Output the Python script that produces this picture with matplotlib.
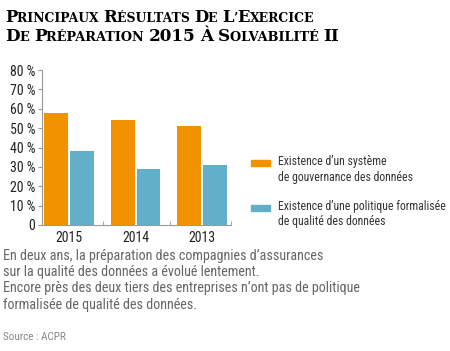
import matplotlib
matplotlib.use("Agg")
import matplotlib.pyplot as plt
import numpy as np

# === DONNEES === #
annees = ["2015", "2014", "2013"]
gouvernance = [58, 54, 51]
politique = [38, 29, 31]
legende = ["Existence d\u2019un système\nde gouvernance des données",
           "Existence d\u2019une politique formalisée\nde qualité des données"]
yticks = [0, 10, 20, 30, 40, 50, 60, 70, 80]
ylabels = ["0", "10 %", "20 %", "30 %", "40 %", "50 %", "60 %", "70 %", "80 %"]

titre = ["Principaux Résultats De L\u2019Exercice",
         "De Préparation 2015 À Solvabilité II"]
texte = ("En deux ans, la préparation des compagnies d\u2019assurances\n"
         "sur la qualité des données a évolué lentement.\n"
         "Encore près des deux tiers des entreprises n\u2019ont pas de politique\n"
         "formalisée de qualité des données.")
source = "Source : ACPR"

ORANGE = "#F39200"
BLEU = "#63AEC8"
GRIS = "#666666"

plt.rcParams["font.family"] = ["Roboto Condensed", "DejaVu Sans"]

W, H = 450, 351
fig = plt.figure(figsize=(W / 100, H / 100), dpi=100)
ax = fig.add_axes([42 / W, 1 - 225 / H, (231 - 42) / W, (225 - 70) / H])

x = np.arange(len(annees))
larg = 0.36
ax.bar(x - 0.195, gouvernance, larg, color=ORANGE)
ax.bar(x + 0.195, politique, larg, color=BLEU)
ax.set_xlim(-0.406, 2.436)
ax.set_ylim(0, 80)
ax.set_yticks(yticks)
ax.set_yticklabels(ylabels, fontsize=10, color="#222222")
ax.set_xticks(x)
ax.set_xticklabels(annees, fontsize=10, color="#222222")
ax.tick_params(axis="x", length=0, pad=4)
ax.tick_params(axis="y", length=3, color="#999999", pad=2)
ax.set_xticks([0.507, 1.52, 2.43], minor=True)
ax.tick_params(axis="x", which="minor", length=3, color="#999999", direction="in")
for s in ["top", "right"]:
    ax.spines[s].set_visible(False)
for s in ["left", "bottom"]:
    ax.spines[s].set_color("#999999")
    ax.spines[s].set_linewidth(0.8)

# legende
for i, (lab, col) in enumerate(zip(legende, [ORANGE, BLEU])):
    yc = 163 + i * 45
    fig.patches.append(plt.Rectangle((251 / W, 1 - (yc + 3) / H), 19 / W, 6 / H,
                                     color=col, transform=fig.transFigure))
    fig.text(278 / W, 1 - (yc - 8) / H, lab, fontsize=8.5, color="#333333",
             va="top", linespacing=1.25)

# titre en petites capitales
renderer = fig.canvas.get_renderer()


def petites_caps(ligne, y, largeur, grand=10.5, petit=8.0):
    runs = []
    for c in ligne:
        taille = petit if (c.islower() or c in " \u2019") else grand
        if runs and runs[-1][1] == taille:
            runs[-1][0] += c
        else:
            runs.append([c, taille])

    def poser(k):
        xp = 5 / W
        objets = []
        for txt, taille in runs:
            t = fig.text(xp, y, txt.upper(), fontsize=taille * k, fontweight="bold",
                         family="DejaVu Serif", color="black", va="baseline")
            xp += t.get_window_extent(renderer).width / W
            objets.append(t)
        return objets, xp * W - 5

    objets, w = poser(1.0)
    for t in objets:
        t.remove()
    poser(largeur / w)


petites_caps(titre[0], 1 - 21.5 / H, 310)
petites_caps(titre[1], 1 - 41 / H, 335)

fig.text(3 / W, 1 - 249 / H, texte, fontsize=10.2, color=GRIS, va="top",
         linespacing=1.2)
fig.text(3 / W, 1 - 337 / H, source, fontsize=8, color="#888888", va="center")

fig.savefig("out.png", dpi=100)
